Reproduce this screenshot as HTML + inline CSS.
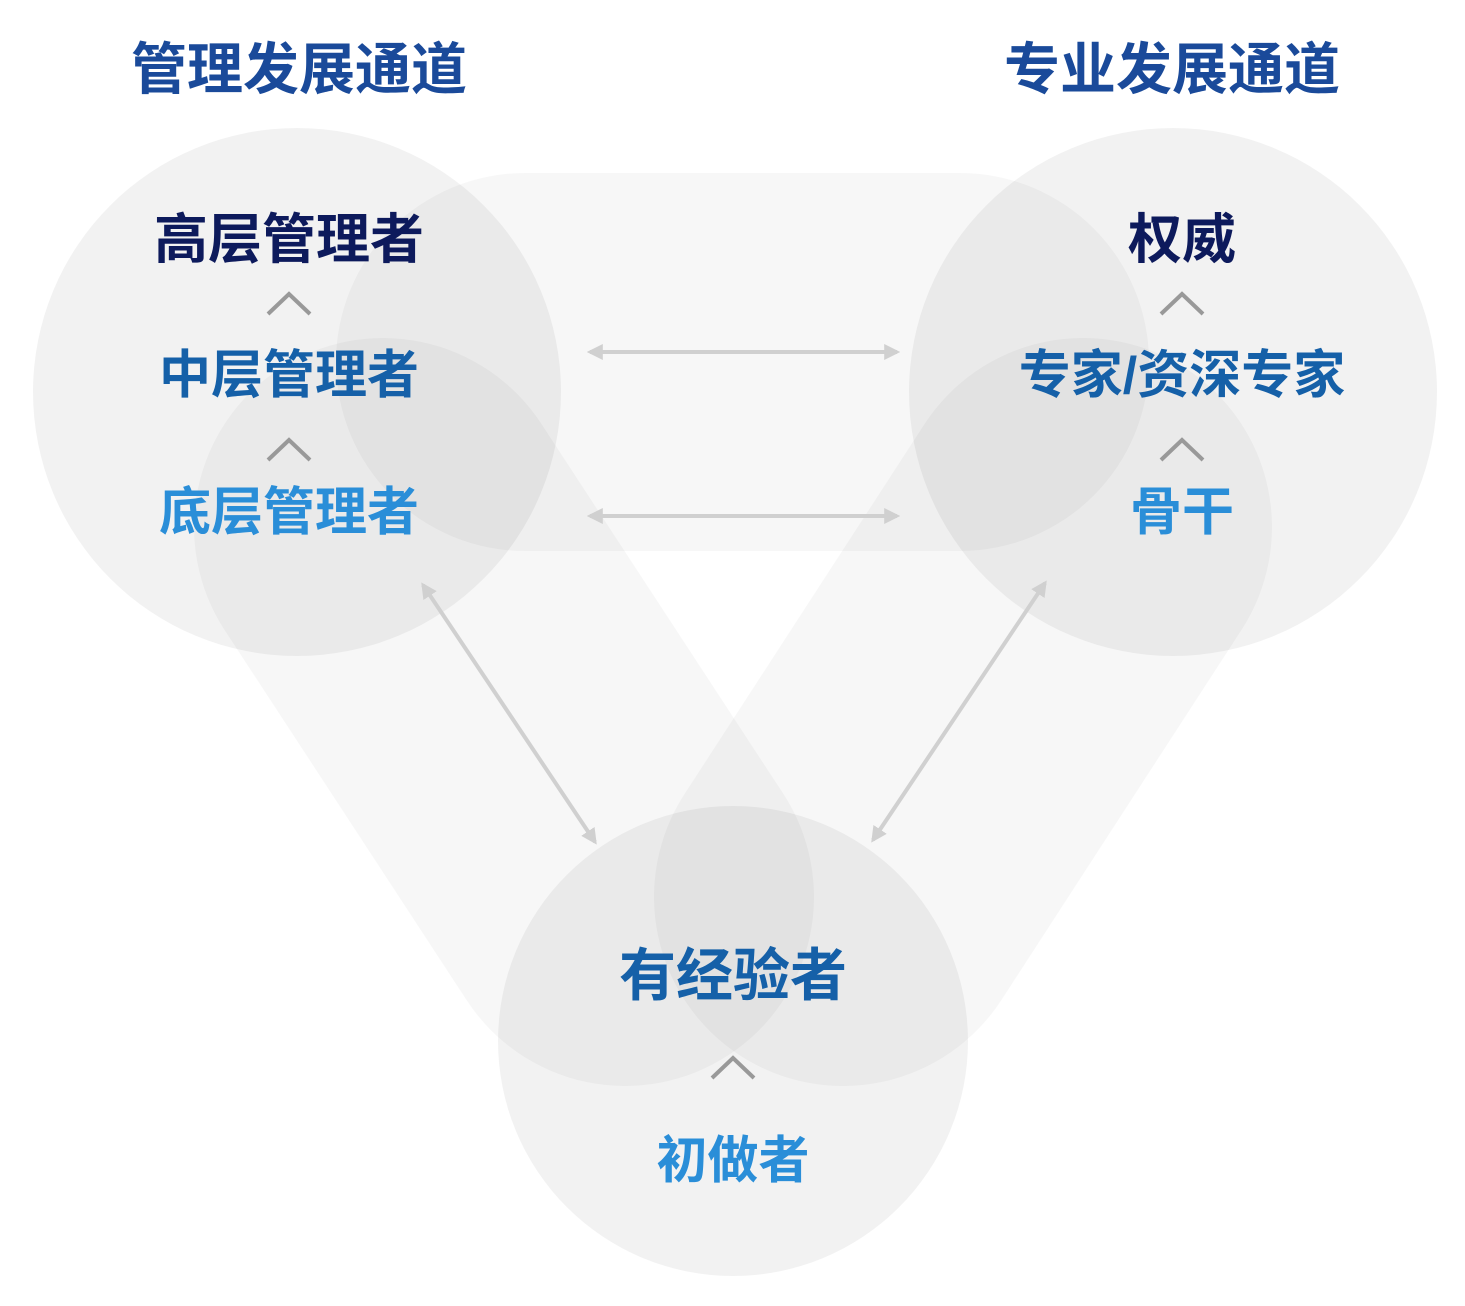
<!DOCTYPE html>
<html><head><meta charset="utf-8"><style>
html,body{margin:0;padding:0;background:#fff}
svg{display:block}
text{font-family:"Liberation Sans","Noto Sans CJK SC",sans-serif;text-anchor:middle;font-weight:bold}
</style></head><body>
<svg width="1465" height="1306" viewBox="0 0 1465 1306" xmlns="http://www.w3.org/2000/svg">
<defs>
<marker id="ah" viewBox="0 0 10 10" refX="8" refY="5" markerWidth="4" markerHeight="4" orient="auto-start-reverse">
<path d="M0,0 L10,5 L0,10 z" fill="#d0d0d0"/></marker>
</defs>
<g stroke="#000" stroke-opacity="0.032" stroke-linecap="round" stroke-width="378" fill="none">
<line x1="525" y1="362" x2="960" y2="362"/>
<line x1="383" y1="527" x2="625" y2="897"/>
<line x1="1083" y1="527" x2="843" y2="897"/>
</g>
<g fill="#000" fill-opacity="0.05">
<circle cx="297" cy="392" r="264"/>
<circle cx="1173" cy="392" r="264"/>
<circle cx="733" cy="1041" r="235"/>
</g>
<g stroke="#d0d0d0" stroke-width="4" fill="none" marker-start="url(#ah)" marker-end="url(#ah)">
<line x1="590" y1="352" x2="897" y2="352"/>
<line x1="590" y1="516" x2="897" y2="516"/>
<line x1="423" y1="585" x2="595" y2="842"/>
<line x1="1045" y1="583" x2="873" y2="840"/>
</g>
<g stroke="#999" stroke-width="4" fill="none">
<polyline points="268,314 289,294 310,314"/>
<polyline points="268,460 289,440 310,460"/>
<polyline points="1161,314 1182,294 1203,314"/>
<polyline points="1161,460 1182,440 1203,460"/>
<polyline points="712,1078 733,1058 754,1078"/>
</g>
<text x="299" y="89" font-size="56" fill="#1a4a9a">管理发展通道</text>
<text x="1172" y="89" font-size="56" fill="#1a4a9a">专业发展通道</text>
<text x="289" y="258" font-size="54" fill="#0d1a5c">高层管理者</text>
<text x="289" y="393" font-size="52" fill="#1560a8">中层管理者</text>
<text x="289" y="530" font-size="52" fill="#2a8ed8">底层管理者</text>
<text x="1182" y="258" font-size="54" fill="#0d1a5c">权威</text>
<text x="1182" y="393" font-size="52" fill="#1560a8">专家/资深专家</text>
<text x="1182" y="530" font-size="52" fill="#2a8ed8">骨干</text>
<text x="733" y="995" font-size="57" fill="#1560a8">有经验者</text>
<text x="733" y="1178" font-size="51" fill="#2a8ed8">初做者</text>
</svg>
</body></html>
